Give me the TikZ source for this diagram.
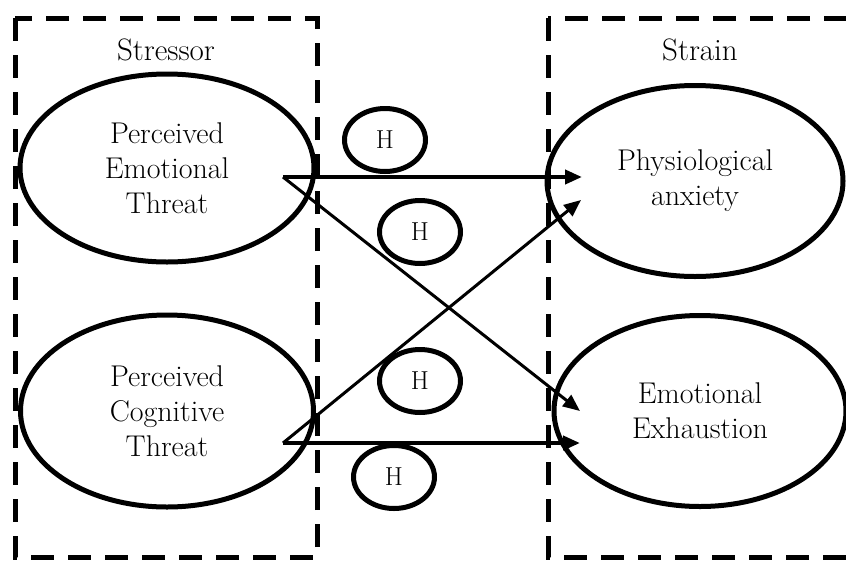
\documentclass[tikz,border=0pt]{standalone}
\usepackage{fontspec}
\usetikzlibrary{shapes.geometric,arrows.meta}
\begin{document}
\begin{tikzpicture}[x=1pt,y=-1pt,
  bigell/.style={ellipse, draw, line width=5pt, inner sep=0pt, align=center,
    font=\fontsize{30}{35}\selectfont},
  hell/.style={ellipse, draw, line width=5pt, minimum width=81pt, minimum height=63pt,
    inner sep=0pt, font=\fontsize{26}{28}\selectfont},
  boxline/.style={line width=5pt, dash pattern=on 23pt off 14pt},
  title/.style={font=\fontsize{31}{33}\selectfont, inner sep=0pt},
  conn/.style={line width=4pt, -{Triangle[length=17pt,width=14pt]}},
  diag/.style={line width=3pt, -{Triangle[length=17pt,width=14pt]}}]
\useasboundingbox (0,0) rectangle (846,560);
\clip (0,0) rectangle (846,560);
% dashed group boxes
\draw[boxline] (15,18) rectangle (317,557);
\draw[boxline] (548,18) rectangle (880,557);
\node[title] (stressor) at (166,50) {Stressor};
\node[title] (strain) at (700,50) {Strain};
% constructs
\node[bigell, minimum width=294pt, minimum height=188pt] (pet) at (167,168) {Perceived\\Emotional\\Threat};
\node[bigell, minimum width=293pt, minimum height=192pt] (pct) at (167,411) {Perceived\\Cognitive\\Threat};
\node[bigell, minimum width=296pt, minimum height=191pt] (pa) at (695,181) {Physiological\\anxiety};
\node[bigell, minimum width=292pt, minimum height=191pt] (ee) at (700,411) {Emotional\\Exhaustion};
% hypothesis markers
\node[hell] (h1) at (385,140) {\raisebox{-5pt}{H}};
\node[hell] (h2) at (420,232) {\raisebox{-5pt}{H}};
\node[hell] (h3) at (420,381) {\raisebox{-5pt}{H}};
\node[hell] (h4) at (394,477) {\raisebox{-5pt}{H}};
% connector end points
\coordinate (petout) at (283,177);
\coordinate (pctout) at (283,443);
\coordinate (pain1) at (582,177);
\coordinate (pain2) at (581,200);
\coordinate (eein1) at (580,411);
\coordinate (eein2) at (580,443);
% connectors
\draw[conn] (petout) -- (pain1);
\draw[diag] (petout) -- (eein1);
\draw[diag] (pctout) -- (pain2);
\draw[conn] (pctout) -- (eein2);
\end{tikzpicture}
\end{document}
